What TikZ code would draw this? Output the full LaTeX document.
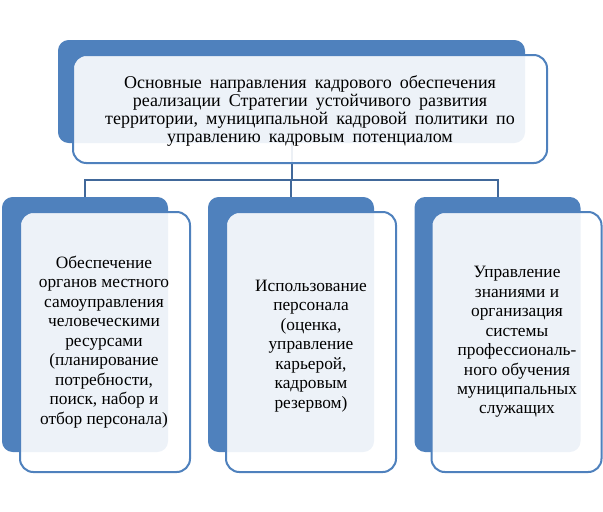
\documentclass[tikz,border=0pt]{standalone}
\usepackage{fontspec}
\setmainfont{Liberation Serif}

\definecolor{boxblue}{HTML}{4F81BD}
\definecolor{linkblue}{HTML}{41689A}

\newcommand\widespace{\spaceskip = 0.45em plus 0.1em\relax}

\begin{document}
\begin{tikzpicture}[x = 0.75pt, y = -0.75pt,
	backbox/.style = {fill = boxblue, rounded corners = 8pt, inner sep = 0pt},
	frontbox/.style = {draw = boxblue, line width = 1.5pt, fill = white, fill opacity = 0.9, rounded corners = 10pt, inner sep = 0pt},
	link/.style = {draw = linkblue, line width = 1.5pt},
	toptext/.style = {align = center, inner sep = 0pt, font = \rmfamily\fontsize{13.5}{13.4}\selectfont\widespace},
	coltext/.style = {align = center, inner sep = 0pt, font = \rmfamily\fontsize{13}{14.6}\selectfont}]

	\useasboundingbox (0, 0) rectangle (603, 511);

	% Back boxes
	
	\node [backbox, minimum width = 350.25pt, minimum height = 77.25pt] (topback) at (291.5, 91.5) {};
	
	\foreach \n/\x in {a/85, b/291, c/497.5}
		\node [backbox, minimum width = 124.5pt, minimum height = 191.25pt] (\n back) at (\x, 324.5) {};

	% Connectors
	
	\foreach \n in {a, b, c}
		\draw [link] (topback.south) -- ++(0, 37) -| (\n back.north);

	% Front boxes
	
	\node [frontbox, minimum width = 355.5pt, minimum height = 81pt] (topfront) at (310, 109) {};
	
	\foreach \n/\x in {a/105, b/311, c/516.5}
		\node [frontbox, minimum width = 127.5pt, minimum height = 195pt] (\n front) at (\x, 342) {};

	% Texts
	
	\node [toptext] (toplabel) at (310, 111) {Основные направления кадрового обеспечения\\ реализации Стратегии устойчивого развития\\ территории, муниципальной кадровой политики по\\ управлению кадровым потенциалом};
	
	\node [coltext] (alabel) at (104, 342) {Обеспечение\\ органов местного\\ самоуправления\\ человеческими\\ ресурсами\\ (планирование\\ потребности,\\ поиск, набор и\\ отбор персонала)};
	
	\node [coltext] (blabel) at (311, 346) {Использование\\ персонала\\ (оценка,\\ управление\\ карьерой,\\ кадровым\\ резервом)};
	
	\node [coltext] (clabel) at (517, 342) {Управление\\ знаниями и\\ организация\\ системы\\ профессиональ-\\ ного обучения\\ муниципальных\\ служащих};

\end{tikzpicture}
\end{document}
